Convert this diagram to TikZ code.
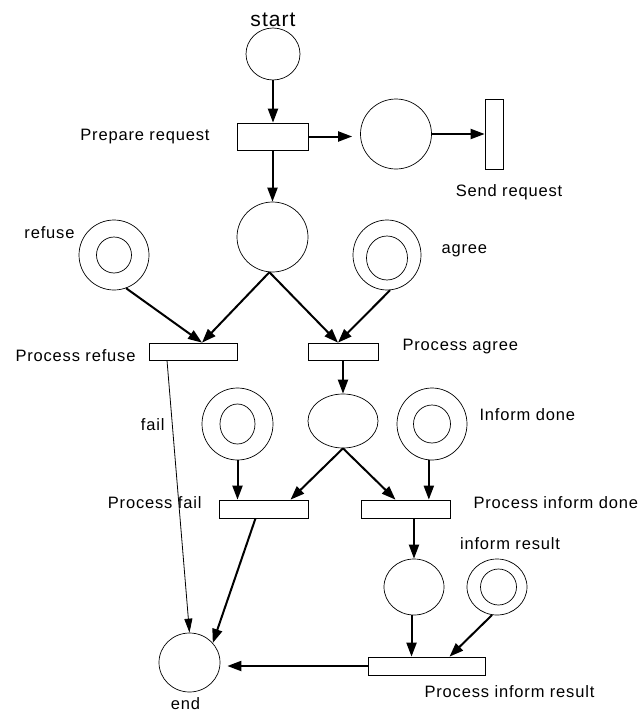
\documentclass[tikz,border=0pt]{standalone}
\usepackage{fontspec}
\newfontfamily\petrifont[LetterSpace=5]{Liberation Sans}
\usepackage{tikz}
\usetikzlibrary{shapes.geometric,arrows.meta,positioning}

\begin{document}
\begin{tikzpicture}[
  x=1pt, y=-1pt,
  place/.style={draw, ellipse, line width=0.7pt, inner sep=0pt},
  trans/.style={draw, rectangle, line width=0.7pt, inner sep=0pt},
  arr/.style={-{Triangle[length=14pt, width=10pt]}, line width=2pt},
  thinarr/.style={-{Triangle[length=14pt, width=8pt]}, line width=0.8pt},
  lbl/.style={font=\petrifont\fontsize{16.5}{18}\selectfont, inner sep=0pt}
]
\useasboundingbox (0,0) rectangle (641,712);

\node[place, minimum width=54pt, minimum height=52pt] (start) at (273,54) {};
\node[trans, minimum width=71pt, minimum height=27pt] (prep) at (272.5,136.5) {};
\node[place, minimum width=71pt, minimum height=70pt] (sent) at (396,134) {};
\node[trans, minimum width=18pt, minimum height=70pt] (send) at (494,134) {};
\node[place, minimum width=71pt, minimum height=70pt] (mid) at (272.5,237) {};

\node[place, minimum width=70pt, minimum height=70pt] (refuse) at (114,255) {};
\node[place, minimum width=35pt, minimum height=36pt] (refuseIn) at (refuse) {};
\node[place, minimum width=68pt, minimum height=70pt] (agree) at (387,255) {};
\node[place, minimum width=41pt, minimum height=44pt] (agreeIn) at ([yshift=-3pt]agree) {};

\node[trans, minimum width=88pt, minimum height=17pt] (procRefuse) at (193,351.5) {};
\node[trans, minimum width=70pt, minimum height=17pt] (procAgree) at (343,351.5) {};

\node[place, minimum width=70pt, minimum height=54pt] (oval) at (343,421) {};
\node[place, minimum width=71pt, minimum height=72pt] (fail) at (237.5,424) {};
\node[place, minimum width=35pt, minimum height=40pt] (failIn) at (fail) {};
\node[place, minimum width=70pt, minimum height=72pt] (done) at (432,424) {};
\node[place, minimum width=37pt, minimum height=38pt] (doneIn) at (done) {};

\node[trans, minimum width=89pt, minimum height=18pt] (procFail) at (263.5,509) {};
\node[trans, minimum width=89pt, minimum height=18pt] (procDone) at (405.5,509) {};

\node[place, minimum width=60pt, minimum height=56pt] (result) at (414,587) {};
\node[place, minimum width=60pt, minimum height=56pt] (resultTok) at (497,587) {};
\node[place, minimum width=36pt, minimum height=36pt] (resultTokIn) at ([xshift=1.5pt]resultTok) {};
\node[trans, minimum width=117pt, minimum height=18pt] (procResult) at (426.5,666) {};
\node[place, minimum width=61pt, minimum height=59pt] (endp) at (189.5,662.5) {};

\node[lbl, font=\petrifont\fontsize{21}{23}\selectfont, above=1pt of start] (startL) {start};
\node[lbl, left=27pt of prep] (prepL) {Prepare request};
\node[lbl, below=15pt of send, xshift=15pt] (sendL) {Send request};
\node[lbl, left=4pt of refuse, yshift=22pt] (refuseL) {refuse};
\node[lbl, right=20pt of agree, yshift=4pt] (agreeL) {agree};
\node[lbl, left=13pt of procRefuse, yshift=-4pt] (procRefuseL) {Process refuse};
\node[lbl, right=24pt of procAgree, yshift=5pt] (procAgreeL) {Process agree};
\node[lbl, left=37pt of fail, yshift=-1pt] (failL) {fail};
\node[lbl, right=12pt of done, yshift=9pt] (doneL) {Inform done};
\node[lbl, left=17pt of procFail, yshift=6pt] (procFailL) {Process fail};
\node[lbl, right=23pt of procDone, yshift=6pt] (procDoneL) {Process inform done};
\node[lbl, above=9pt of result, xshift=96pt] (resultL) {inform result};
\node[lbl, below=10pt of procResult, xshift=83pt] (procResultL) {Process inform result};
\node[lbl, below=5pt of endp, xshift=-4pt] (endL) {end};

\draw[arr] (start) -- (start |- prep.north);
\draw[arr] (prep) -- (mid);
\draw[arr, shorten >=8pt] (prep.east) -- (prep.east -| sent.west);
\draw[arr] (sent) -- (send);
\draw[arr] (refuse.-70) -- ([xshift=9pt]procRefuse.north);
\draw[arr] (mid.-95) -- ([xshift=9pt]procRefuse.north);
\draw[arr] (mid.-95) -- ([xshift=-5pt]procAgree.north);
\draw[arr] (agree.-85) -- ([xshift=-5pt]procAgree.north);
\draw[arr] (procAgree) -- (oval);
\draw[thinarr] ([xshift=-26pt]procRefuse.south) -- (endp.north);
\draw[arr] (fail) -- (fail |- procFail.north);
\draw[arr] (oval.south) -- ([xshift=27pt]procFail.north);
\draw[arr] (oval.south) -- ([xshift=-10pt]procDone.north);
\draw[arr] (done.-95) -- (done.-95 |- procDone.north);
\draw[arr] ([xshift=-8pt]procFail.south) -- (endp.40);
\draw[arr] (result |- procDone.south) -- (result);
\draw[arr] (result.-95) -- (result.-95 |- procResult.north);
\draw[arr] (resultTok.-100) -- ([xshift=23pt]procResult.north);
\draw[arr, shorten >=7pt] (procResult.west) -- (procResult.west -| endp.east);

\end{tikzpicture}
\end{document}
